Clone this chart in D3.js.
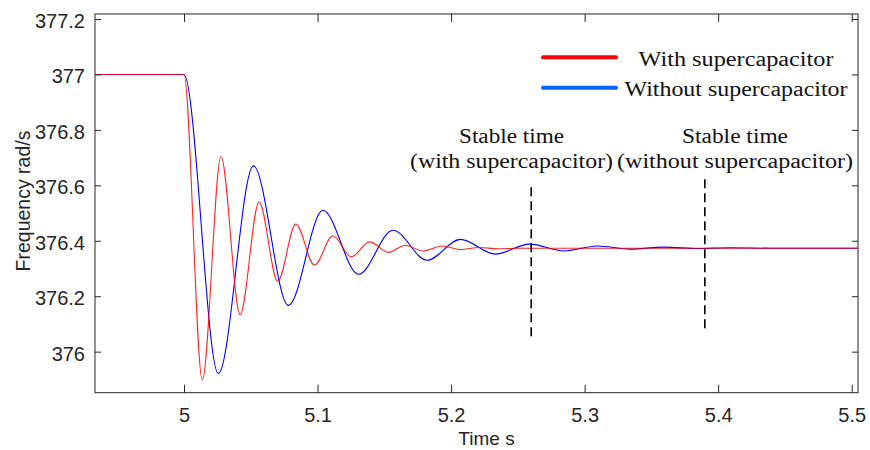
<!DOCTYPE html>
<html>
<head>
<meta charset="utf-8">
<script src="https://cdn.jsdelivr.net/npm/d3@7"></script>
<style>
  html, body { margin: 0; padding: 0; background: #fff; }
  svg { display: block; }
</style>
</head>
<body>
<svg id="chart" width="870" height="450"></svg>
<script>
// ---------------- data ----------------
const xTicks = [5, 5.1, 5.2, 5.3, 5.4, 5.5];
const xTickLabels = ["5", "5.1", "5.2", "5.3", "5.4", "5.5"];
const yTicks = [376, 376.2, 376.4, 376.6, 376.8, 377, 377.2];
const yTickLabels = ["376", "376.2", "376.4", "376.6", "376.8", "377", "377.2"];

const seriesNames = ["With supercapacitor", "Without supercapacitor"];

// With supercapacitor (red)
const timeRed = [4.9333, 5.0, 5.0137, 5.0277, 5.042, 5.0562, 5.0702, 5.0837, 5.0977,
  5.1115, 5.1252, 5.139, 5.1532, 5.1657, 5.179, 5.1932, 5.207, 5.221, 5.235, 5.25, 5.5047];
const freqRed = [377.0, 377.0, 375.897, 376.703, 376.134, 376.540, 376.254, 376.460, 376.312,
  376.418, 376.342, 376.396, 376.358, 376.384, 376.363, 376.381, 376.368, 376.376, 376.371, 376.373, 376.373];

// Without supercapacitor (blue)
const timeBlue = [4.9333, 5.0, 5.0257, 5.052, 5.0782, 5.104, 5.1307, 5.1565, 5.182, 5.2069,
  5.2331, 5.2589, 5.2843, 5.3094, 5.3343, 5.3593, 5.385, 5.41, 5.44, 5.5047];
const freqBlue = [377.0, 377.0, 375.921, 376.670, 376.167, 376.510, 376.279, 376.438, 376.330, 376.405,
  376.352, 376.388, 376.363, 376.381, 376.370, 376.377, 376.372, 376.375, 376.373, 376.373];

// Stable-time markers
const stableTimes = [5.26, 5.39];
const stableTop = [376.593, 376.622];
const stableBottom = [376.052, 376.084];
const stableLine1 = ["Stable time", "Stable time"];
const stableLine2 = ["(with supercapacitor)", "(without supercapacitor)"];

// ---------------- layout ----------------
const svg = d3.select("#chart");
const L = 95, R = 858, T = 14, B = 392.7;
const x = d3.scaleLinear().domain([4.93335, 5.5047]).range([L, R]);
const y = d3.scaleLinear().domain([375.852, 377.218]).range([B, T]);
const axisColor = "#262626";
const sans = "'Liberation Sans', Arial, Helvetica, sans-serif";
const serif = "'Liberation Serif', 'Times New Roman', serif";

svg.append("defs").append("clipPath").attr("id", "clip")
  .append("rect").attr("x", L).attr("y", T).attr("width", R - L).attr("height", B - T);

// curves
const line = d3.line().x(d => x(d[0])).y(d => y(d[1])).curve(d3.curveMonotoneX);
const blueData = timeBlue.map((t, i) => [t, freqBlue[i]]);
const redData = timeRed.map((t, i) => [t, freqRed[i]]);
const g = svg.append("g").attr("clip-path", "url(#clip)");
g.append("path").datum(blueData).attr("d", line)
  .attr("fill", "none").attr("stroke", "#0000ff").attr("stroke-width", 1.1);
g.append("path").datum(redData).attr("d", line)
  .attr("fill", "none").attr("stroke", "#ff0000").attr("stroke-width", 1.1).attr("stroke-opacity", 0.85);

// stable-time dashed lines
stableTimes.forEach((t, i) => {
  svg.append("line")
    .attr("x1", x(t)).attr("x2", x(t))
    .attr("y1", y(stableTop[i])).attr("y2", y(stableBottom[i]))
    .attr("stroke", "#000").attr("stroke-width", 1.6)
    .attr("stroke-dasharray", "9,5");
});

// annotations
const annW1 = [105, 106], annW2 = [203, 236], annX = [511.5, 735];
stableTimes.forEach((t, i) => {
  svg.append("text").attr("x", annX[i]).attr("y", 143)
    .attr("text-anchor", "middle").attr("font-family", serif).attr("font-size", 20.5)
    .attr("fill", "#111").attr("textLength", annW1[i]).attr("lengthAdjust", "spacingAndGlyphs")
    .text(stableLine1[i]);
  svg.append("text").attr("x", annX[i]).attr("y", 168.3)
    .attr("text-anchor", "middle").attr("font-family", serif).attr("font-size", 20.5)
    .attr("fill", "#111").attr("textLength", annW2[i]).attr("lengthAdjust", "spacingAndGlyphs")
    .text(stableLine2[i]);
});

// axes frame & ticks
svg.append("rect").attr("x", L).attr("y", T).attr("width", R - L).attr("height", B - T)
  .attr("fill", "none").attr("stroke", axisColor).attr("stroke-width", 1);

const xb = d3.axisBottom(x).tickValues(xTicks).tickSizeInner(-8).tickSizeOuter(0)
  .tickFormat((d, i) => xTickLabels[i]).tickPadding(14);
const gx = svg.append("g").attr("transform", `translate(0,${B})`).call(xb);
const xt = d3.axisTop(x).tickValues(xTicks).tickSizeInner(-8).tickSizeOuter(0).tickFormat("");
const gxt = svg.append("g").attr("transform", `translate(0,${T})`).call(xt);
const yl = d3.axisLeft(y).tickValues(yTicks).tickSizeInner(-6).tickSizeOuter(0)
  .tickFormat((d, i) => yTickLabels[i]).tickPadding(10);
const gy = svg.append("g").attr("transform", `translate(${L},0)`).call(yl);
const yr = d3.axisRight(y).tickValues(yTicks).tickSizeInner(-6).tickSizeOuter(0).tickFormat("");
const gyr = svg.append("g").attr("transform", `translate(${R},0)`).call(yr);
[gx, gxt, gy, gyr].forEach(a => {
  a.select(".domain").remove();
  a.selectAll(".tick line").attr("stroke", axisColor).attr("stroke-width", 1);
  a.selectAll("text").attr("font-family", sans).attr("font-size", 20).attr("fill", axisColor);
});
gx.selectAll("text").attr("dy", null).attr("y", 422.3 - B).attr("dominant-baseline", "auto");
gy.selectAll("text").attr("dy", null).attr("y", 8.5).attr("dominant-baseline", "auto");

// axis titles
svg.append("text").attr("x", 486.5).attr("y", 445)
  .attr("text-anchor", "middle").attr("font-family", sans).attr("font-size", 19)
  .attr("fill", axisColor).text("Time s");
svg.append("text").attr("transform", "translate(30,201) rotate(-90)")
  .attr("text-anchor", "middle").attr("font-family", sans).attr("font-size", 19.5)
  .attr("fill", axisColor).text("Frequency rad/s");

// legend
const legColors = ["#ff0000", "#0066ff"];
const legY = [57.3, 87.7];
const legW = [195, 223];
seriesNames.forEach((name, i) => {
  svg.append("line").attr("x1", 543).attr("x2", 616)
    .attr("y1", legY[i]).attr("y2", legY[i])
    .attr("stroke", legColors[i]).attr("stroke-width", 4).attr("stroke-linecap", "round");
  svg.append("text").attr("x", 736).attr("y", legY[i] + 8.7)
    .attr("text-anchor", "middle").attr("font-family", serif).attr("font-size", 20.5)
    .attr("fill", "#111").attr("textLength", legW[i]).attr("lengthAdjust", "spacingAndGlyphs")
    .text(name);
});
</script>
</body>
</html>
